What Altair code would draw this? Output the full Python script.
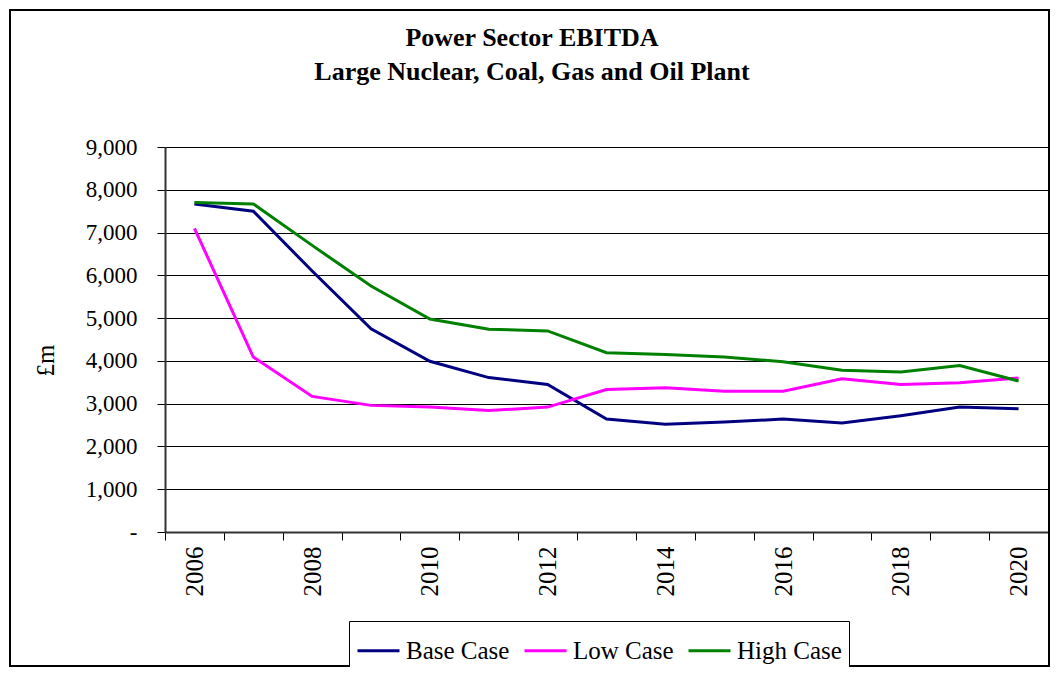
import altair as alt
import pandas as pd

years = list(range(2006, 2021))
base_case = [7670, 7500, 6100, 4750, 3990, 3610, 3450, 2640, 2520, 2570, 2640, 2550, 2720, 2920, 2880]
low_case = [7100, 4090, 3170, 2960, 2920, 2840, 2920, 3330, 3370, 3290, 3290, 3580, 3450, 3490, 3600]
high_case = [7700, 7670, 6700, 5750, 4980, 4740, 4700, 4190, 4150, 4090, 3980, 3780, 3740, 3890, 3530]
series_names = ["Base Case", "Low Case", "High Case"]
series_colors = ["#000080", "#FF00FF", "#008000"]
y_ticks = [0, 1000, 2000, 3000, 4000, 5000, 6000, 7000, 8000, 9000]
title_lines = ["Power Sector EBITDA", "Large Nuclear, Coal, Gas and Oil Plant"]

rows = []
for name, vals in zip(series_names, [base_case, low_case, high_case]):
    for yr, v in zip(years, vals):
        rows.append({"Year": yr, "Value": v, "Series": name})
df = pd.DataFrame(rows)

font = "Liberation Serif"
one = pd.DataFrame({"a": [0]})

border = alt.Chart(one).mark_rect(
    fill="transparent", stroke="black", strokeWidth=2
).encode(
    x=alt.value(-155), x2=alt.value(884), y=alt.value(-137), y2=alt.value(519)
)

title = alt.Chart(one).mark_text(
    font=font, fontSize=26, fontWeight="bold", color="black",
    align="center", baseline="alphabetic", lineHeight=34,
).encode(
    x=alt.value(367), y=alt.value(-101), text=alt.value(title_lines)
)

lines = alt.Chart(df).mark_line(strokeWidth=3).encode(
    x=alt.X(
        "Year:O",
        scale=alt.Scale(type="band", paddingInner=0, paddingOuter=0),
        axis=alt.Axis(
            title=None,
            labelAngle=-90,
            tickBand="extent",
            labelExpr="datum.value % 2 == 0 ? datum.label : ''",
            labelFont=font,
            labelFontSize=25,
            labelColor="black",
            labelPadding=6,
            labelOverlap=False,
            tickSize=8,
            tickColor="black",
            domainColor="#333333",
            domainWidth=2,
            grid=False,
        ),
    ),
    y=alt.Y(
        "Value:Q",
        scale=alt.Scale(domain=[0, 9000], nice=False),
        axis=alt.Axis(
            values=y_ticks,
            labelExpr="datum.value == 0 ? '-' : format(datum.value, ',')",
            labelFont=font,
            labelFontSize=23,
            labelColor="black",
            labelPadding=20,
            tickSize=8,
            tickColor="black",
            domainColor="#333333",
            domainWidth=2,
            gridColor="black",
            gridWidth=1,
            title="£m",
            titleFont=font,
            titleFontSize=25,
            titleFontWeight="normal",
            titleColor="black",
            titleX=-120,
            titleY=213,
            titleBaseline="middle",
        ),
    ),
    color=alt.Color(
        "Series:N",
        scale=alt.Scale(domain=series_names, range=series_colors),
        legend=alt.Legend(
            title=None,
            orient="none",
            legendX=184,
            legendY=474,
            direction="horizontal",
            symbolType="stroke",
            symbolSize=1764,
            symbolStrokeWidth=3,
            labelFont=font,
            labelFontSize=25,
            labelColor="black",
            labelLimit=0,
            strokeColor="black",
            fillColor="white",
            padding=7,
            columnPadding=8,
            labelOffset=5,
        ),
    ),
)

chart = alt.layer(border, title, lines).properties(
    width=883,
    height=385,
    autosize="none",
    padding={"left": 157, "top": 139, "right": 2, "bottom": 135},
).configure_view(stroke="#808080", strokeWidth=1.5).configure(background="white")

chart.save("out.html", embed_options={"renderer": "svg", "actions": False})
